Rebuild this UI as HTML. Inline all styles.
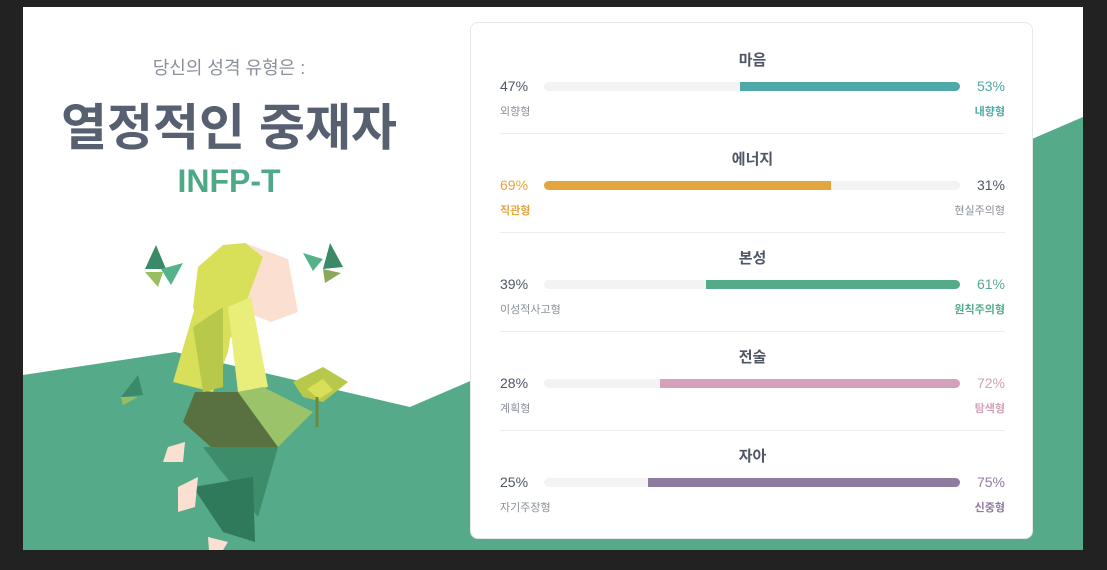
<!DOCTYPE html>
<html><head><meta charset="utf-8"><style>
body{margin:0;width:1107px;height:570px;background:#222;overflow:hidden;font-family:"Liberation Sans","Noto Sans CJK KR",sans-serif;position:relative}
#page{position:absolute;left:23px;top:7px;width:1060px;height:543px;background:#fff;overflow:hidden}
#card{position:absolute;left:470px;top:22px;width:563px;height:517px;background:#fff;border:1px solid #e6e8ea;border-radius:8px;box-sizing:border-box}
.t{position:absolute;white-space:nowrap}
</style></head><body>
<div id="page">
<svg width="1060" height="543" style="position:absolute;left:0;top:0">
<polygon points="0,368 152,345 387,400 1060,110 1060,543 0,543" fill="#55ab89"/>
<polygon points="133,238 143,262 122,262" fill="#3a8a68"/><polygon points="138,262 160,256 148,278" fill="#55b38b"/><polygon points="122,265 140,265 135,280" fill="#97bf5f"/>
<polygon points="307,236 320,260 300,262" fill="#3a8a68"/><polygon points="280,246 300,252 290,264" fill="#55b38b"/><polygon points="300,262 318,266 302,276" fill="#8aa85a"/>
<polygon points="115,368 120,388 98,390" fill="#3a8a68"/><polygon points="98,390 115,390 100,398" fill="#97bf5f"/>
<polygon points="222,236 265,252 275,305 248,315 210,300" fill="#fbe0d2"/>
<polygon points="200,238 222,236 240,250 210,330 180,335 170,300 175,260" fill="#d8e05a"/>
<polygon points="175,290 215,280 205,345 190,385 150,375" fill="#d8e05a"/>
<polygon points="205,300 228,290 245,380 215,385" fill="#e9ee7a"/>
<polygon points="170,320 200,300 200,380 180,385" fill="#b8c84a"/>
<polygon points="172,385 215,385 255,440 210,460 160,415" fill="#597140"/>
<polygon points="215,385 240,380 290,405 255,440" fill="#9bc46a"/>
<polygon points="180,440 255,440 235,510 195,460" fill="#3d8d6b"/>
<polygon points="170,480 230,470 232,535 200,525" fill="#2f7a5a"/>
<polygon points="155,480 175,470 172,500 155,505" fill="#fbe0d2"/>
<polygon points="185,530 205,535 200,543 186,543" fill="#fbe0d2"/>
<polygon points="145,440 162,435 160,455 140,455" fill="#fbe0d2"/>
<polygon points="270,375 300,360 325,375 300,395 280,390" fill="#b8c84a"/>
<polygon points="284,382 300,372 310,383 296,392" fill="#d8e05a"/>
<line x1="294" y1="390" x2="294" y2="420" stroke="#6a8a40" stroke-width="3"/>
</svg>
<div class="t" style="left:0;width:412px;text-align:center;top:47px;font-size:18px;color:#8a909a">당신의 성격 유형은 :</div>
<div class="t" style="left:0;width:412px;text-align:center;top:81px;font-size:50px;font-weight:bold;color:#576071">열정적인 중재자</div>
<div class="t" style="left:0;width:412px;text-align:center;top:156px;font-size:32px;font-weight:bold;color:#4fa987">INFP-T</div>
</div>
<div id="card"></div>
<script>
const titles=["마음","에너지","본성","전술","자아"];
const leftVals=[47,69,39,28,25];
const leftLabels=["외향형","직관형","이성적사고형","계획형","자기주장형"];
const rightLabels=["내향형","현실주의형","원칙주의형","탐색형","신중형"];
const colors=["#4fa9a8","#e3a63f","#55ab89","#d3a1b9","#8f7aa0"];
const dominantLeft=[false,true,false,false,false];
const card=document.getElementById('card');
const x0=73,x1=489;
titles.forEach((t,i)=>{
 const y=i*99;const lv=leftVals[i],rv=100-lv,c=colors[i],dl=dominantLeft[i];
 const row=document.createElement('div');
 
 
 row.style.cssText='position:absolute;left:0;top:'+y+'px;width:563px;height:99px';
 const w=(x1-x0)*(dl?lv:rv)/100;
 row.innerHTML=
 '<div class="t" style="left:0;width:563px;text-align:center;top:26px;font-size:15px;font-weight:bold;color:#4f5665">'+t+'</div>'+
 '<div class="t" style="left:29px;top:55px;font-size:14px;color:'+(dl?c:'#4f5665')+'">'+lv+'%</div>'+
 '<div class="t" style="right:29px;top:55px;font-size:14px;color:'+(dl?'#4f5665':c)+'">'+rv+'%</div>'+
 '<div style="position:absolute;left:'+x0+'px;top:59px;width:'+(x1-x0)+'px;height:9px;border-radius:5px;background:#f3f3f3"></div>'+
 '<div style="position:absolute;left:'+(dl?x0:x1-w)+'px;top:59px;width:'+w+'px;height:9px;border-radius:'+(dl?'5px 0 0 5px':'0 5px 5px 0')+';background:'+c+'"></div>'+
 '<div class="t" style="left:29px;top:80px;font-size:11px;color:'+(dl?c:'#8a909a')+';font-weight:'+(dl?'bold':'normal')+'">'+leftLabels[i]+'</div>'+
 '<div class="t" style="right:29px;top:80px;font-size:11px;color:'+(dl?'#8a909a':c)+';font-weight:'+(dl?'normal':'bold')+'">'+rightLabels[i]+'</div>'+
 (i<4?'<div style="position:absolute;left:29px;right:29px;top:110px;height:1px;background:#ececec"></div>':'');
 card.appendChild(row);
});
</script>
</body></html>
